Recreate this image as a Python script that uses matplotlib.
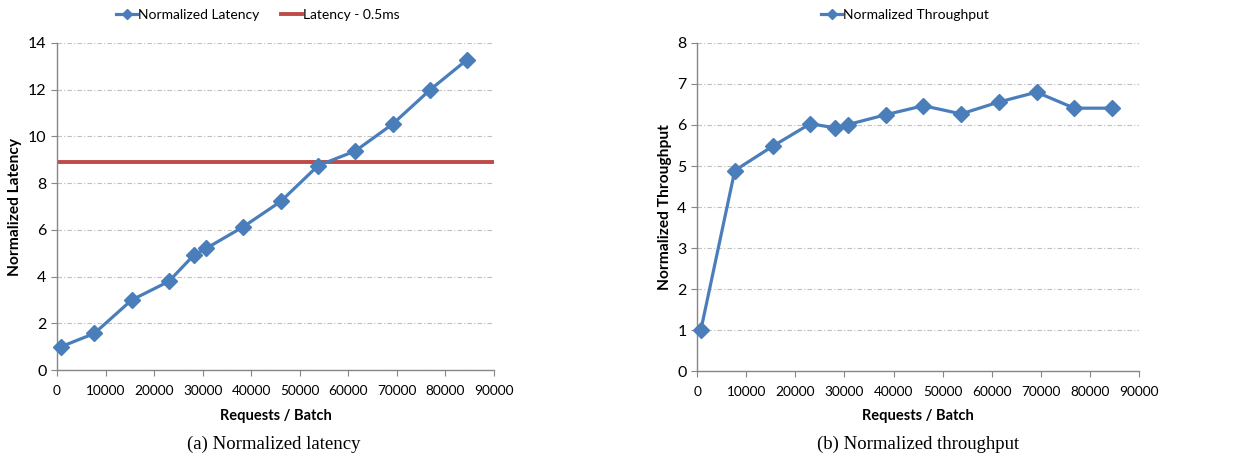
import matplotlib
matplotlib.use("Agg")
import matplotlib.pyplot as plt

batch = [768, 7680, 15360, 23040, 28160, 30720, 38400, 46080, 53760, 61440, 69120, 76800, 84480]
latency = [1.0, 1.57, 3.0, 3.8, 4.92, 5.21, 6.14, 7.22, 8.75, 9.38, 10.53, 11.99, 13.29]
latency_limit = 8.89
throughput = [1.0, 4.89, 5.48, 6.03, 5.93, 6.01, 6.25, 6.47, 6.27, 6.56, 6.80, 6.41, 6.41]

BLUE = "#4A7EBB"
RED = "#BE4B48"
AXIS = "#868686"
FONT = "Lato"

plt.rcParams["font.family"] = [FONT, "DejaVu Sans"]

fig = plt.figure(figsize=(12.47, 4.57), dpi=100)
ax1 = fig.add_axes([0.0457, 0.190, 0.3505, 0.716])
ax2 = fig.add_axes([0.559, 0.188, 0.3545, 0.718])


def style(ax, ymax, ylabel):
    ax.set_xlim(0, 90000)
    ax.set_ylim(0, ymax)
    ax.set_xticks(range(0, 90001, 10000))
    for s in ("top", "right"):
        ax.spines[s].set_visible(False)
    for s in ("left", "bottom"):
        ax.spines[s].set_color(AXIS)
        ax.spines[s].set_linewidth(1.0)
    ax.tick_params(colors=AXIS, labelcolor="black", length=4, labelsize=11.5)
    ax.tick_params(axis="x", labelsize=9.8, pad=7)
    ax.yaxis.grid(True, color="#BFBFBF", linestyle=(0, (4, 2, 1, 2)), linewidth=0.8)
    ax.set_axisbelow(True)
    ax.set_xlabel("Requests / Batch", fontsize=10.5, fontweight="bold", labelpad=8)
    ax.set_ylabel(ylabel, fontsize=11.2, fontweight="bold", labelpad=4)


ax1.plot(batch, latency, color=BLUE, lw=2.3, marker="D", ms=8,
         label="Normalized Latency", clip_on=False, zorder=3)
ax1.axhline(latency_limit, color=RED, lw=2.8, label="Latency - 0.5ms", zorder=2)
style(ax1, 14, "Normalized Latency")
ax1.set_yticks(range(0, 15, 2))
ax1.legend(loc="lower center", bbox_to_anchor=(0.46, 1.03), ncol=2, frameon=False,
           fontsize=10, handlelength=1.5, handletextpad=0.05, columnspacing=1.6,
           markerscale=0.7)

ax2.plot(batch, throughput, color=BLUE, lw=2.3, marker="D", ms=8,
         label="Normalized Throughput", clip_on=False, zorder=3)
style(ax2, 8, "Normalized Throughput")
ax2.set_yticks(range(0, 9))
ax2.legend(loc="lower center", bbox_to_anchor=(0.47, 1.03), frameon=False,
           fontsize=10, handlelength=1.5, handletextpad=0.05, markerscale=0.7)

fig.text(0.2195, 0.017, "(a) Normalized latency", ha="center",
         fontsize=13.5, family="Liberation Serif")
fig.text(0.7365, 0.017, "(b) Normalized throughput", ha="center",
         fontsize=13.5, family="Liberation Serif")

fig.savefig("out.png", dpi=100)
